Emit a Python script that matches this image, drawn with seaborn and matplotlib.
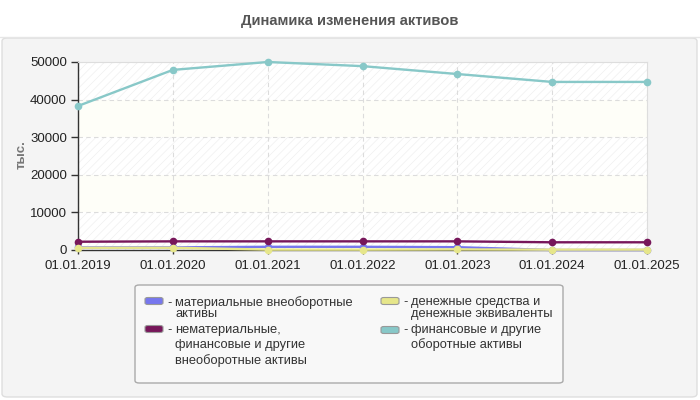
import pandas as pd
import matplotlib
matplotlib.use("Agg")
import matplotlib.pyplot as plt
import seaborn as sns
from matplotlib.patches import FancyBboxPatch

# chart data
dates = ["01.01.2019", "01.01.2020", "01.01.2021", "01.01.2022",
         "01.01.2023", "01.01.2024", "01.01.2025"]
material = [700, 700, 850, 850, 750, 0, 0]
nonmaterial = [2200, 2300, 2300, 2300, 2300, 2050, 2050]
cash = [600, 600, 100, 100, 150, 100, 100]
current = [38300, 47900, 50000, 48900, 46800, 44700, 44700]

series_names = [
    "материальные внеоборотные активы",
    "нематериальные, финансовые и другие внеоборотные активы",
    "денежные средства и денежные эквиваленты",
    "финансовые и другие оборотные активы",
]
legend_lines = [
    ["материальные внеоборотные", "активы"],
    ["нематериальные,", "финансовые и другие", "внеоборотные активы"],
    ["денежные средства и", "денежные эквиваленты"],
    ["финансовые и другие", "оборотные активы"],
]
colors = ["#7777ee", "#77175a", "#e6e68a", "#88c8c8"]

rows = []
for name, vals in zip(series_names, [material, nonmaterial, cash, current]):
    for d, v in zip(dates, vals):
        rows.append({"date": d, "value": v, "series": name})
df = pd.DataFrame(rows)

sns.set_style("white")
plt.rcParams["font.family"] = ["Liberation Sans", "DejaVu Sans"]
plt.rcParams["hatch.linewidth"] = 0.5

W, H = 700, 400
fig = plt.figure(figsize=(7, 4), dpi=100)
fig.patch.set_facecolor("white")


def fx(x):
    return x / W


def fy(y):
    return 1 - y / H


# grey panel under the chart
panel = FancyBboxPatch((fx(2), fy(397)), fx(695), 359 / H,
                       boxstyle="round,pad=0,rounding_size=0.008",
                       transform=fig.transFigure, facecolor="#f4f4f4",
                       edgecolor="#dedede", linewidth=1, zorder=-2)
fig.patches.append(panel)
fig.add_artist(plt.Line2D([0, 1], [fy(37), fy(37)], color="#e6e6e6",
                          linewidth=1, transform=fig.transFigure, zorder=-1))

fig.text(0.5, fy(21), "Динамика изменения активов", ha="center", va="center",
         fontsize=10.6, fontweight="bold", color="#555555")
fig.text(fx(22), fy(155), "тыс.", ha="center", va="center", rotation=90,
         fontsize=9.5, fontweight="bold", color="#777777")

ax = fig.add_axes([fx(78), fy(250), fx(569), 188 / H])
ax.set_zorder(1)
ax.set_facecolor("white")

# striped background bands
for i, lo in enumerate(range(0, 50000, 10000)):
    if i % 2 == 0:
        ax.axhspan(lo, lo + 10000, facecolor="white", edgecolor="#f0f0f0",
                   hatch="////", linewidth=0, zorder=0)
    else:
        ax.axhspan(lo, lo + 10000, facecolor="#fefef8", linewidth=0, zorder=0)

sns.lineplot(data=df, x="date", y="value", hue="series", palette=colors,
             marker="o", markersize=5.5, markeredgewidth=0, linewidth=1.7,
             legend=False, ax=ax, zorder=3)
for line in ax.lines:
    line.set_clip_on(False)

ax.set_xlim(0, len(dates) - 1)
ax.set_ylim(0, 50000)
ax.set_yticks(range(0, 50001, 10000))
ax.set_xlabel("")
ax.set_ylabel("")
ax.grid(True, color="#dcdcdc", linestyle=(0, (4, 3)), linewidth=0.8)
ax.set_axisbelow(True)
for s in ["top", "right"]:
    ax.spines[s].set_color("#dddddd")
for s in ["left", "bottom"]:
    ax.spines[s].set_color("#333333")
    ax.spines[s].set_linewidth(1)
ax.tick_params(axis="y", length=5, width=1, color="#333333", labelsize=9.5,
               labelcolor="#222222", direction="out", left=True, pad=3)
ax.tick_params(axis="x", length=3, width=1, color="#333333", labelsize=9.5,
               labelcolor="#222222", direction="out", bottom=True, pad=4)
ax.set_yticklabels([str(v) for v in range(0, 50001, 10000)])

# legend box drawn by hand so the layout follows the reference
frame = FancyBboxPatch((fx(135), fy(383)), fx(428), 98 / H,
                       boxstyle="round,pad=0,rounding_size=0.006",
                       transform=fig.transFigure, facecolor="#f8f8f8",
                       edgecolor="#aaaaaa", linewidth=1, zorder=2)
fig.patches.append(frame)

legend_pos = [(145, 301, [303, 314]),
              (145, 329, [330, 345, 361]),
              (381, 301, [302, 314]),
              (381, 330, [330, 345])]
for color, lines, (hx, hy, ys) in zip(colors, legend_lines, legend_pos):
    handle = FancyBboxPatch((fx(hx), fy(hy + 3.5)), fx(18), 7 / H,
                            boxstyle="round,pad=0,rounding_size=0.004",
                            transform=fig.transFigure, facecolor=color,
                            edgecolor="#999999", linewidth=0.8, zorder=3)
    fig.patches.append(handle)
    fig.text(fx(hx + 22), fy(ys[0]), "-", ha="left", va="center",
             fontsize=9.3, color="#333333", zorder=3)
    for line, ly in zip(lines, ys):
        fig.text(fx(hx + 30), fy(ly), line, ha="left", va="center",
                 fontsize=9.3, color="#333333", zorder=3)

fig.savefig("out.png", dpi=100)
